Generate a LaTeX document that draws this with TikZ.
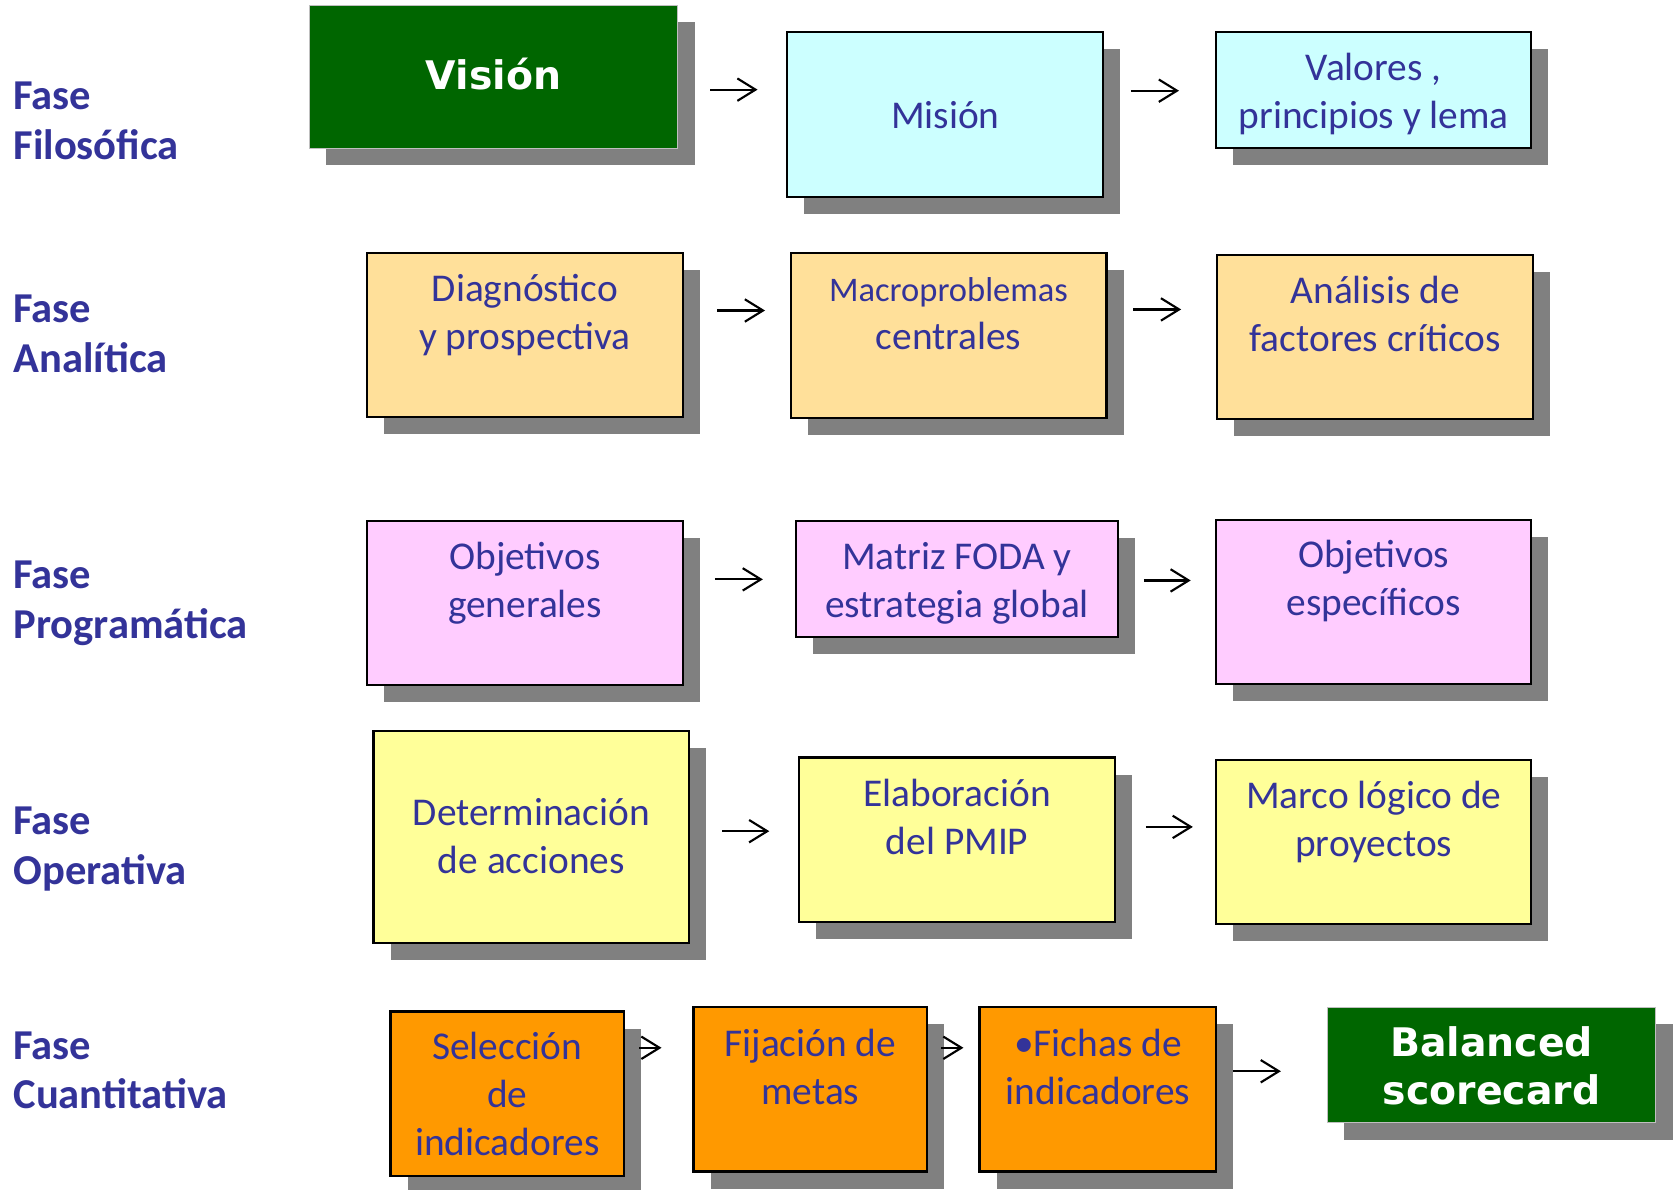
\documentclass[tikz,border=0pt]{standalone}
\usepackage{fontspec}
\setmainfont{Carlito}
\newfontfamily\vsans{DejaVu Sans}
\usetikzlibrary{positioning,shadows,arrows.meta}

\definecolor{textblue}{HTML}{333399}
\definecolor{darkgreen}{HTML}{006600}
\definecolor{cyanbox}{HTML}{CCFFFF}
\definecolor{tanbox}{HTML}{FFE09A}
\definecolor{pinkbox}{HTML}{FFCCFF}
\definecolor{yellowbox}{HTML}{FFFF99}
\definecolor{orangebox}{HTML}{FF9900}
\definecolor{shadowgray}{HTML}{808080}

\tikzset{
  box/.style={draw=black, line width=0.2mm, inner sep=0pt,
    drop shadow={shadow xshift=1.6mm, shadow yshift=-1.6mm, fill=shadowgray, opacity=1}},
  greenbox/.style={box, draw=white!75!black, line width=0.1mm, fill=darkgreen},
  boxtext/.style={align=center, inner sep=0pt, text=textblue,
    font=\fontsize{10.5}{12.8}\selectfont, execute at begin node=\strut},
  whitetext/.style={align=center, inner sep=0pt, text=white,
    font=\vsans\bfseries\fontsize{10.5}{12.8}\selectfont, execute at begin node=\strut},
  phase/.style={anchor=north west, align=left, inner sep=0pt, text=textblue,
    font=\fontsize{11.35}{13.3}\selectfont\bfseries, execute at begin node=\strut},
  arr/.style={-{Straight Barb[length=1.7mm,width=2.1mm]}, line width=0.2mm}
}

\begin{document}
\begin{tikzpicture}[x=0.1mm, y=-0.1mm]
    \fill[white] (0,0) rectangle (1568,1115);
    \useasboundingbox (0,0) rectangle (1568,1115);

    % fases
    \node[phase] (f1) at (12,76) {Fase\\Filosófica};
    \node[phase] (f2) at (12,276) {Fase\\Analítica};
    \node[phase] (f3) at (12,525) {Fase\\Programática};
    \node[phase] (f4) at (12,756) {Fase\\Operativa};
    \node[phase] (f5) at (12,966) {Fase\\Cuantitativa};

    % fila 1
    \node[greenbox, minimum width=34.5mm, minimum height=13.4mm] (vision) at (462.5,72) {};
    \node[whitetext, below=4.75mm of vision.north] (visionT) {Visión};
    \node[box, fill=cyanbox, minimum width=29.6mm, minimum height=15.5mm] (mision) at (886,107.5) {};
    \node[boxtext, below=5.9mm of mision.north] (misionT) {Misión};
    \node[box, fill=cyanbox, minimum width=29.5mm, minimum height=10.9mm] (valores) at (1287.5,84.5) {};
    \node[boxtext, below=2mm of valores.north] (valoresT) {Valores ,\\principios y lema};

    % fila 2
    \node[box, fill=tanbox, minimum width=29.6mm, minimum height=15.4mm] (diag) at (492,314) {};
    \node[boxtext, below=2.05mm of diag.north] (diagT) {Diagnóstico\\y prospectiva};
    \node[box, fill=tanbox, minimum width=29.6mm, minimum height=15.5mm] (macro) at (889,314.5) {};
    \node[boxtext, below=2.3mm of macro.north] (macroT) {{\fontsize{9.2}{11}\selectfont Macroproblemas}\\centrales};
    \node[box, fill=tanbox, minimum width=29.6mm, minimum height=15.4mm] (analisis) at (1289,316) {};
    \node[boxtext, below=2.05mm of analisis.north] (analisisT) {Análisis de\\factores críticos};

    % fila 3
    \node[box, fill=pinkbox, minimum width=29.6mm, minimum height=15.4mm] (objgen) at (492,565) {};
    \node[boxtext, below=2.05mm of objgen.north] (objgenT) {Objetivos\\generales};
    \node[box, fill=pinkbox, minimum width=30.2mm, minimum height=10.9mm] (foda) at (897,542.5) {};
    \node[boxtext, below=2.05mm of foda.north] (fodaT) {Matriz FODA y\\estrategia global};
    \node[box, fill=pinkbox, minimum width=29.5mm, minimum height=15.4mm] (objesp) at (1287.5,564) {};
    \node[boxtext, below=2mm of objesp.north] (objespT) {Objetivos\\específicos};

    % fila 4
    \node[box, fill=yellowbox, minimum width=29.6mm, minimum height=19.9mm] (determ) at (498,784.5) {};
    \node[boxtext, below=6.4mm of determ.north] (determT) {Determinación\\de acciones};
    \node[box, fill=yellowbox, minimum width=29.6mm, minimum height=15.4mm] (elab) at (897,787) {};
    \node[boxtext, below=2.05mm of elab.north] (elabT) {Elaboración\\del PMIP};
    \node[box, fill=yellowbox, minimum width=29.5mm, minimum height=15.4mm] (marco) at (1287.5,789) {};
    \node[boxtext, below=2.05mm of marco.north] (marcoT) {Marco lógico de\\proyectos};

    % fila 5
    \node[box, fill=orangebox, minimum width=21.9mm, minimum height=15.4mm] (selec) at (475.5,1025) {};
    \node[boxtext, below=1.95mm of selec.north] (selecT) {Selección\\de\\indicadores};
    \node[box, fill=orangebox, minimum width=21.9mm, minimum height=15.4mm] (fijac) at (759.5,1021) {};
    \node[boxtext, below=2.05mm of fijac.north] (fijacT) {Fijación de\\metas};
    \node[box, fill=orangebox, minimum width=22.2mm, minimum height=15.4mm] (fichas) at (1029,1021) {};
    \node[boxtext, below=2.05mm of fichas.north] (fichasT) {•Fichas de\\indicadores};
    \node[greenbox, minimum width=30.8mm, minimum height=10.8mm] (balanced) at (1398,998) {};
    \node[whitetext, below=1.75mm of balanced.north] (balancedT) {Balanced\\scorecard};

    % flechas
    \draw[arr, shorten <=3mm, shorten >=2.7mm] (vision.east |- 0,84) -- (mision.west |- 0,84);
    \draw[arr, shorten <=2.5mm, shorten >=3.4mm] (mision.east |- 0,85) -- (valores.west |- 0,85);
    \draw[arr, shorten <=3.1mm, shorten >=2.3mm] (diag.east |- 0,291) -- (macro.west |- 0,291);
    \draw[arr, shorten <=2.4mm, shorten >=3.3mm] (macro.east |- 0,290) -- (analisis.west |- 0,290);
    \draw[arr, shorten <=2.9mm, shorten >=3mm] (objgen.east |- 0,543) -- (foda.west |- 0,543);
    \draw[arr, shorten <=2.3mm, shorten >=2.3mm] (foda.east |- 0,544) -- (objesp.west |- 0,544);
    \draw[arr, shorten <=3mm, shorten >=2.7mm] (determ.east |- 0,779) -- (elab.west |- 0,779);
    \draw[arr, shorten <=2.8mm, shorten >=2.1mm] (elab.east |- 0,775) -- (marco.west |- 0,775);
    \draw[arr, shorten <=1.3mm, shorten >=2.9mm] (selec.east |- 0,982) -- (fijac.west |- 0,982);
    \draw[arr, shorten <=1.2mm, shorten >=1.4mm] (fijac.east |- 0,982) -- (fichas.west |- 0,982);
    \draw[arr, shorten <=1.5mm, shorten >=4.3mm] (fichas.east |- 0,1004) -- (balanced.west |- 0,1004);
\end{tikzpicture}
\end{document}
